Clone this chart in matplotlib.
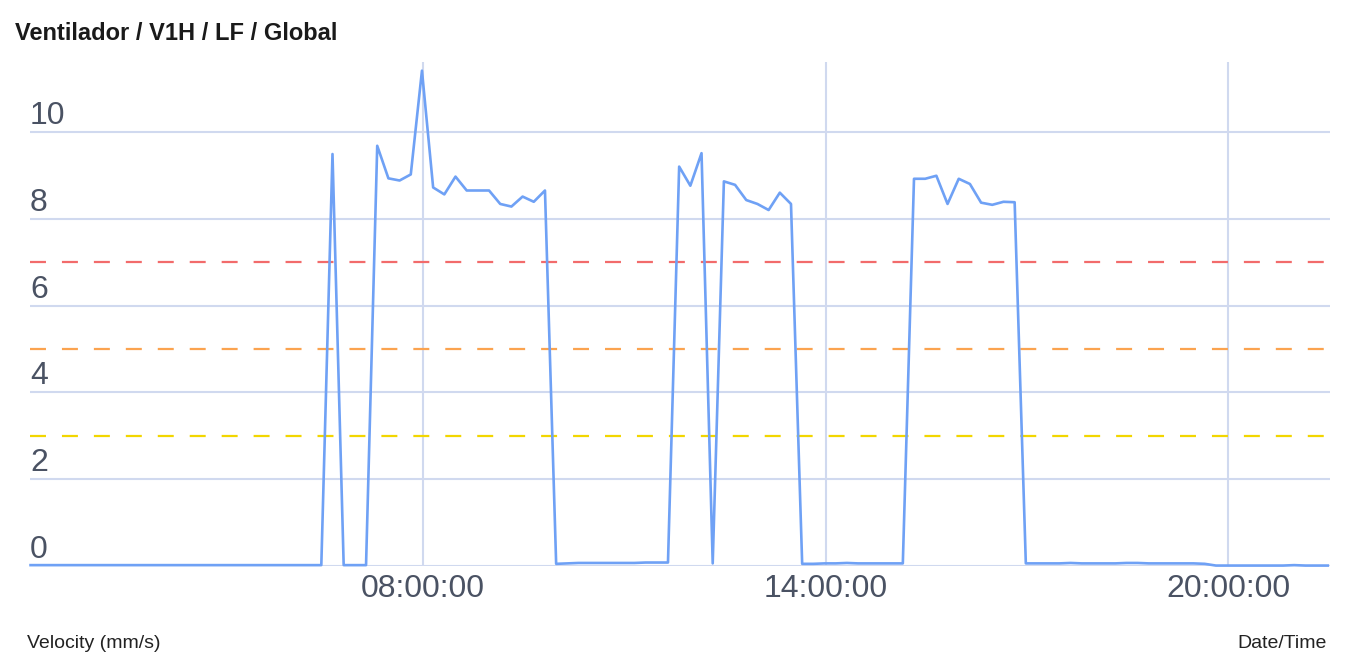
import numpy as np
import pandas as pd
import matplotlib
matplotlib.use("Agg")
import matplotlib.pyplot as plt
import matplotlib.dates as mdates
import matplotlib.transforms as mtransforms

plt.rcParams['font.family'] = ['Liberation Sans', 'DejaVu Sans']
plt.rcParams['lines.scale_dashes'] = False

# muestras cada 10 min, 02:09 -> 21:29
start_time = "2024-01-01 02:09"
n_samples = 117
velocity = [
    # 02:09 - 06:29
    0.02, 0.02, 0.02, 0.02, 0.02, 0.02, 0.02, 0.02, 0.02, 0.02,
    0.02, 0.02, 0.02, 0.02, 0.02, 0.02, 0.02, 0.02, 0.02, 0.02,
    0.02, 0.02, 0.02, 0.02, 0.02, 0.02, 0.02,
    # 06:39 - 09:59
    9.49, 0.02, 0.02, 0.02, 9.68, 8.93, 8.88, 9.02, 11.41, 8.72,
    8.56, 8.97, 8.65, 8.65, 8.65, 8.34, 8.28, 8.51, 8.39, 8.65, 0.05,
    # 10:09 - 11:39
    0.06, 0.07, 0.07, 0.07, 0.07, 0.07, 0.07, 0.08, 0.08, 0.08,
    # 11:49 - 13:39
    9.20, 8.76, 9.51, 0.06, 8.86, 8.78, 8.43, 8.34, 8.20, 8.60, 8.34, 0.05,
    # 13:49 - 15:09
    0.05, 0.06, 0.06, 0.07, 0.06, 0.06, 0.06, 0.06, 0.06,
    # 15:19 - 16:59
    8.92, 8.92, 8.99, 8.34, 8.92, 8.80, 8.37, 8.32, 8.39, 8.38, 0.06,
    # 17:09 - 21:29
    0.06, 0.06, 0.06, 0.07, 0.06, 0.06, 0.06, 0.06, 0.07, 0.07,
    0.06, 0.06, 0.06, 0.06, 0.06, 0.05, 0.01, 0.01, 0.01, 0.01,
    0.01, 0.01, 0.01, 0.02, 0.01, 0.01, 0.01,
]

thresholds = [7, 5, 3]
threshold_colors = ['#f26b6b', '#fba34f', '#f2d600']

y_ticks = [0, 2, 4, 6, 8, 10]
x_ticks = ["2024-01-01 08:00", "2024-01-01 14:00", "2024-01-01 20:00"]
x_range = ["2024-01-01 02:08:30", "2024-01-01 21:31"]

times = pd.date_range(start_time, periods=n_samples, freq="10min")

fig = plt.figure(figsize=(13.68, 6.72), dpi=100)
ax = fig.add_axes([30/1368, 1-566/672, 1300/1368, 504/672])

grid_c = '#d0d9ef'
for v in y_ticks:
    ax.axhline(v, color=grid_c, lw=1.5, zorder=0)
for t in x_ticks:
    ax.axvline(pd.Timestamp(t), color=grid_c, lw=1.5, zorder=0)

for th, c in zip(thresholds, threshold_colors):
    ax.axhline(th, color=c, lw=1.6, dashes=(11.5, 11.5), zorder=1)

ax.plot(times, velocity, color='#6fa1f5', lw=1.9, zorder=3, clip_on=False)

ax.set_ylim(0, 11.61)
ax.set_xlim(pd.Timestamp(x_range[0]), pd.Timestamp(x_range[1]))

for s in ax.spines.values():
    s.set_visible(False)
ax.set_yticks([])
ax.set_xticks([pd.Timestamp(t) for t in x_ticks])
ax.xaxis.set_major_formatter(mdates.DateFormatter('%H:%M:%S'))
ax.tick_params(axis='x', length=0, pad=6, labelsize=23, labelcolor='#4a5263')

off = mtransforms.offset_copy(ax.get_yaxis_transform(), fig=fig, x=0, y=8, units='dots')
for v in y_ticks:
    ax.text(0.0, v, str(v), transform=off, ha='left', va='baseline',
            fontsize=23, color='#4a5263')

fig.text(15/1368, 1-33/672, "Ventilador / V1H / LF / Global", fontsize=17,
         fontweight='bold', color='#1a1a1a', ha='left', va='center')
fig.text(27/1368, 1-643/672, "Velocity (mm/s)", fontsize=14, color='#222222',
         ha='left', va='center')
fig.text(1327/1368, 1-643/672, "Date/Time", fontsize=14, color='#222222',
         ha='right', va='center')

fig.savefig("out.png", dpi=100)
